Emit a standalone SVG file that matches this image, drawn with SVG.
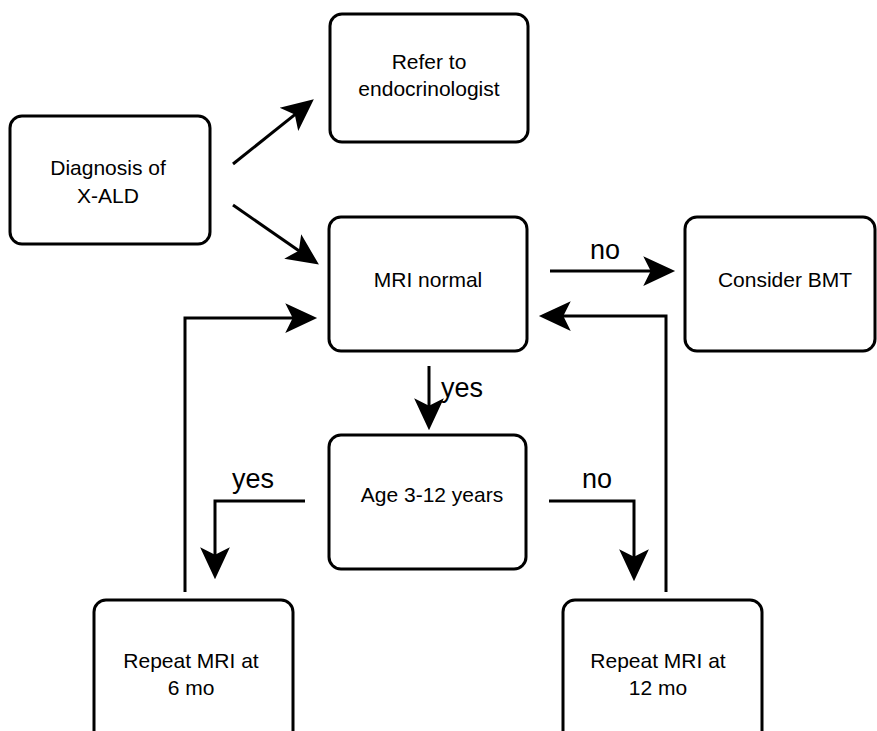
<svg xmlns="http://www.w3.org/2000/svg" width="877" height="731" viewBox="0 0 877 731">
<style>
.box{fill:#fff;stroke:#000;stroke-width:3}
.t{font-family:"Liberation Sans",Arial,sans-serif;font-size:21px;fill:#000;text-anchor:middle}
.lbl{font-family:"Liberation Sans",Arial,sans-serif;font-size:27px;fill:#000}
.c{fill:none;stroke:#000;stroke-width:3}
</style>
<defs>
<marker id="ah" markerUnits="userSpaceOnUse" markerWidth="34" markerHeight="34" viewBox="0 -16 32 32" refX="12" refY="0" orient="auto">
<path d="M30,0 L0,-14 L7,0 L0,14 Z" fill="#000"/>
</marker>
</defs>
<rect width="877" height="731" fill="#fff"/>
<g id="connectors">
<line class="c" x1="233" y1="164" x2="298.9" y2="111.3" marker-end="url(#ah)"/>
<line class="c" x1="233" y1="205" x2="303.2" y2="253.7" marker-end="url(#ah)"/>
<line class="c" x1="550" y1="271" x2="656" y2="271" marker-end="url(#ah)"/>
<path class="c" d="M185,592 V318 H298" marker-end="url(#ah)"/>
<path class="c" d="M666,592 V316 H558" marker-end="url(#ah)"/>
<line class="c" x1="429" y1="366" x2="429" y2="411" marker-end="url(#ah)"/>
<path class="c" d="M305,501 H215 V560" marker-end="url(#ah)"/>
<path class="c" d="M549,501 H634 V562" marker-end="url(#ah)"/>
<text class="lbl" x="605" y="259" text-anchor="middle">no</text>
<text class="lbl" x="441" y="397">yes</text>
<text class="lbl" x="253" y="488" text-anchor="middle">yes</text>
<text class="lbl" x="597" y="488" text-anchor="middle">no</text>
</g>
<g id="diagnosis">
<rect class="box" x="10" y="116" width="200" height="128" rx="12"/>
<text class="t" x="108" y="175">Diagnosis of</text>
<text class="t" x="108" y="203">X-ALD</text>
</g>
<g id="refer">
<rect class="box" x="330" y="14" width="198" height="128" rx="12"/>
<text class="t" x="429" y="69">Refer to</text>
<text class="t" x="429" y="96">endocrinologist</text>
</g>
<g id="mri">
<rect class="box" x="329" y="217" width="198" height="134" rx="12"/>
<text class="t" x="428" y="287">MRI normal</text>
</g>
<g id="bmt">
<rect class="box" x="685" y="217" width="190" height="134" rx="12"/>
<text class="t" x="785" y="287">Consider BMT</text>
</g>
<g id="age">
<rect class="box" x="329" y="435" width="197" height="134" rx="12"/>
<text class="t" x="432" y="502">Age 3-12 years</text>
</g>
<g id="repeat6">
<rect class="box" x="94" y="600" width="199" height="160" rx="12"/>
<text class="t" x="191" y="668">Repeat MRI at</text>
<text class="t" x="191" y="695">6 mo</text>
</g>
<g id="repeat12">
<rect class="box" x="563" y="600" width="199" height="160" rx="12"/>
<text class="t" x="658" y="668">Repeat MRI at</text>
<text class="t" x="658" y="695">12 mo</text>
</g>
</svg>
